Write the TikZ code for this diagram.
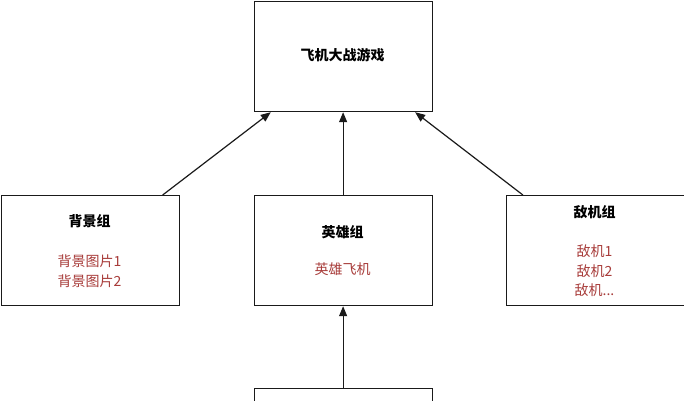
\documentclass[tikz,border=0pt]{standalone}
\usepackage{fontspec}
\setmainfont{Noto Sans CJK SC}
\usetikzlibrary{arrows.meta}
\definecolor{redtxt}{HTML}{A83C3A}
\definecolor{linec}{HTML}{1A1A1A}
\begin{document}
\begin{tikzpicture}[x=1pt,y=-1pt,
  box/.style={draw=linec,line width=1.2pt,fill=white,minimum width=178pt,minimum height=110pt,inner sep=0pt,anchor=north west},
  ttl/.style={font=\fontsize{14}{16}\selectfont\bfseries,text=black},
  sub/.style={font=\fontsize{14}{16}\selectfont,text=redtxt},
  arr/.style={draw=linec,line width=1.2pt,-{Triangle[length=10pt,width=8pt]}}]
\useasboundingbox (0,0) rectangle (684,400);
\clip (0,0) rectangle (684,400);
\fill[white] (0,0) rectangle (684,400);
\node[box] (game) at (253.5,1) {};
\node[box] (bg) at (0.6,195) {};
\node[box] (hero) at (253.5,195) {};
\node[box] (enemy) at (505.5,195) {};
\node[box] (bottom) at (253.5,388) {};
\draw[arr] (bg) -- (game);
\draw[arr] (hero) -- (game);
\draw[arr] (enemy) -- (game);
\draw[arr] (bottom) -- (hero);
\node[ttl] (t0) at (342.5,55) {飞机大战游戏};
\node[ttl] (t1) at (89.5,221.5) {背景组};
\node[sub] (t1a) at (89.5,261) {背景图片1};
\node[sub] (t1b) at (89.5,280.7) {背景图片2};
\node[ttl] (t2) at (342.5,232.3) {英雄组};
\node[sub] (t2a) at (342.5,269.3) {英雄飞机};
\node[ttl] (t3) at (594.5,211.7) {敌机组};
\node[sub] (t3a) at (594.5,251) {敌机1};
\node[sub] (t3b) at (594.5,270.7) {敌机2};
\node[sub] (t3c) at (594.5,290) {敌机...};
\end{tikzpicture}
\end{document}
